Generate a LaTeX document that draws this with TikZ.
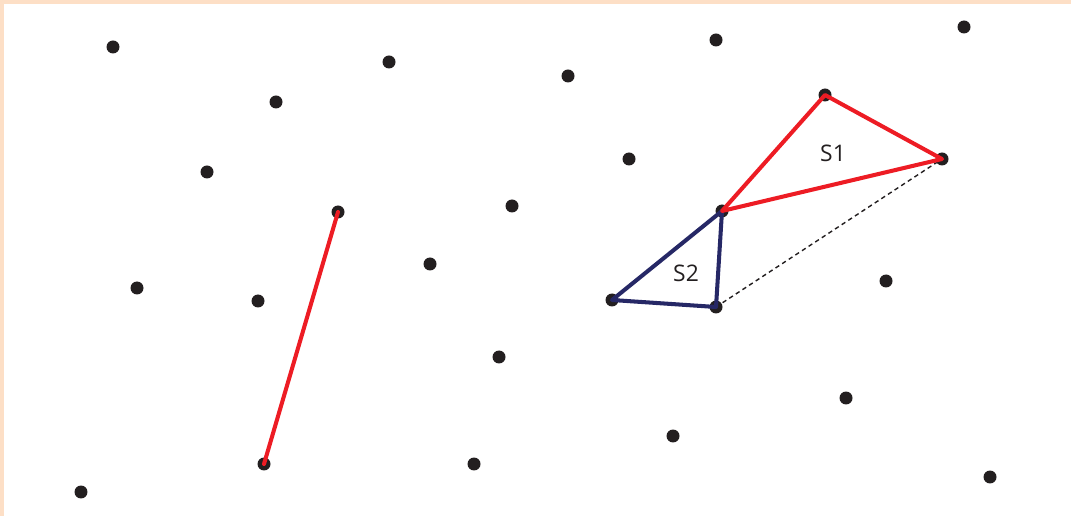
\documentclass[tikz,border=0pt]{standalone}
\usepackage{fontspec}
\setsansfont{Open Sans}
\usepackage{xcolor}
\usepackage{tikz}

\definecolor{dotblack}{HTML}{231F20}
\definecolor{segred}{HTML}{ED1C24}
\definecolor{segblue}{HTML}{262866}
\definecolor{framepeach}{HTML}{FDDFC6}

\begin{document}
\begin{tikzpicture}[
  x=0.02cm, y=-0.02cm,
  pt/.style={circle, fill=dotblack, inner sep=0pt, minimum size=0.26cm},
  redseg/.style={draw=segred, line width=2.3pt, line cap=round, line join=round},
  blueseg/.style={draw=segblue, line width=2.3pt, line cap=round, line join=round},
  hull/.style={draw=dotblack, line width=0.8pt, dash pattern=on 2.5pt off 2pt},
  tag/.style={font=\sffamily\fontsize{13}{15}\selectfont, text=dotblack}
]
\useasboundingbox (0,0) rectangle (1071,516);

% Frame
\fill[framepeach] (0,0) rectangle (1071,4);
\fill[framepeach] (0,0) rectangle (4,516);

% Points
\node (a1) [pt] at (113,47) {};
\node (a2) [pt] at (389,62) {};
\node (a3) [pt] at (276,102) {};
\node (a4) [pt] at (568,76) {};
\node (a5) [pt] at (716,40) {};
\node (a6) [pt] at (964,27) {};
\node (a7) [pt] at (207,172) {};
\node (lineTop) [pt] at (338,212) {};
\node (a9) [pt] at (512,206) {};
\node (a10) [pt] at (629,159) {};
\node (sTop) [pt] at (825,95) {};
\node (sRight) [pt] at (942,159) {};
\node (sMid) [pt] at (722,211) {};
\node (a14) [pt] at (137,288) {};
\node (a15) [pt] at (258,301) {};
\node (a16) [pt] at (430,264) {};
\node (sLeft) [pt] at (612,300) {};
\node (sBottom) [pt] at (716,307) {};
\node (a19) [pt] at (886,281) {};
\node (a20) [pt] at (499,357) {};
\node (a21) [pt] at (846,398) {};
\node (a22) [pt] at (673,436) {};
\node (lineBottom) [pt] at (264,464) {};
\node (a24) [pt] at (474,464) {};
\node (a25) [pt] at (81,492) {};
\node (a26) [pt] at (990,477) {};

% Labels
\node (s1) [tag] at (833,153) {S1};
\node (s2) [tag] at (686,273) {S2};

% Segments
\draw [hull] (sBottom.center) -- (sRight.center);
\draw [blueseg] (sMid.center) -- (sLeft.center) -- (sBottom.center) -- cycle;
\draw [redseg] (sMid.center) -- (sTop.center) -- (sRight.center) -- cycle;
\draw [redseg] (lineTop.center) -- (lineBottom.center);

\end{tikzpicture}
\end{document}
